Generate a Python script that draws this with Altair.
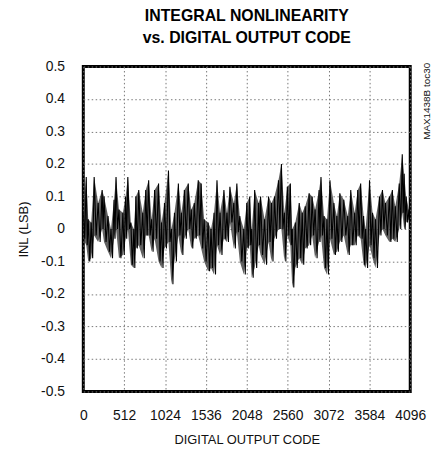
import altair as alt
import pandas as pd

FONT = "Liberation Sans"

title_lines = ["INTEGRAL NONLINEARITY", "vs. DIGITAL OUTPUT CODE"]
x_title = "DIGITAL OUTPUT CODE"
y_title = "INL (LSB)"
side_note = "MAX1438B toc30"

x_ticks = [0, 512, 1024, 1536, 2048, 2560, 3072, 3584, 4096]
y_ticks = [-0.5, -0.4, -0.3, -0.2, -0.1, 0.0, 0.1, 0.2, 0.3, 0.4, 0.5]

codes = [0, 37, 62, 99, 136, 186, 236, 260, 310, 347, 385, 410, 447, 496, 530, 558,
         596, 633, 658, 695, 745, 782, 819, 856, 893, 943, 980, 1017, 1067, 1104,
         1142, 1191, 1229, 1266, 1315, 1353, 1390, 1440, 1477, 1514, 1564, 1600,
         1638, 1675, 1713, 1762, 1800, 1837, 1886, 1924, 1961, 2011, 2048, 2085,
         2110, 2147, 2197, 2221, 2271, 2321, 2358, 2395, 2445, 2482, 2519, 2556,
         2594, 2618, 2656, 2705, 2743, 2780, 2829, 2867, 2904, 2954, 2978, 3016,
         3053, 3090, 3140, 3177, 3214, 3264, 3313, 3351, 3400, 3438, 3475, 3512,
         3537, 3586, 3624, 3661, 3710, 3748, 3785, 3835, 3872, 3909, 3958, 3996,
         4020, 4045, 4080]
upper = [0.05, 0.16, 0.03, 0.02, 0.16, 0.08, 0.12, 0.10, 0.04, 0.00, 0.09, 0.16, 0.06,
         0.05, 0.10, 0.16, 0.02, 0.00, 0.10, 0.12, 0.05, 0.12, 0.15, 0.03, 0.12, 0.14,
         0.02, 0.08, 0.18, 0.00, 0.05, 0.14, 0.05, 0.12, 0.14, 0.06, 0.08, 0.15, 0.14,
         0.03, 0.02, 0.00, 0.05, 0.15, 0.05, 0.12, 0.05, 0.13, 0.08, 0.14, 0.04, 0.00,
         0.08, 0.10, 0.00, 0.12, 0.08, 0.10, 0.03, 0.10, 0.08, 0.10, 0.15, 0.20, 0.05,
         0.13, 0.14, 0.00, 0.02, 0.08, 0.05, 0.07, 0.11, 0.10, 0.06, 0.12, 0.16, 0.04,
         0.03, 0.15, 0.08, 0.04, 0.11, 0.09, 0.04, 0.12, 0.05, 0.12, 0.14, 0.04, 0.00,
         0.15, 0.05, 0.03, 0.10, 0.12, 0.08, 0.10, 0.12, 0.07, 0.14, 0.23, 0.17, 0.10,
         0.06]
lower = [-0.03, -0.05, -0.10, -0.09, -0.02, -0.04, 0.00, -0.04, -0.07, -0.09, -0.03,
         0.00, -0.09, -0.08, -0.03, 0.00, -0.11, -0.12, -0.06, -0.05, -0.09, -0.02,
         -0.02, -0.07, -0.03, -0.10, -0.12, -0.06, -0.04, -0.17, -0.10, -0.02, -0.08,
         -0.03, 0.00, -0.06, -0.03, -0.02, -0.06, -0.10, -0.13, -0.12, -0.14, -0.05,
         -0.08, -0.03, -0.04, 0.02, -0.06, -0.01, -0.10, -0.14, -0.06, -0.05, -0.15,
         -0.12, -0.05, -0.08, -0.11, -0.04, -0.10, -0.03, 0.00, 0.00, -0.10, -0.02,
         -0.05, -0.18, -0.12, -0.09, -0.11, -0.06, -0.05, -0.02, -0.09, -0.04, -0.02,
         -0.12, -0.14, -0.03, -0.08, -0.07, -0.04, -0.02, -0.08, -0.05, -0.05, -0.02,
         -0.03, -0.11, -0.12, -0.05, -0.09, -0.12, -0.02, 0.00, -0.02, -0.04, -0.03,
         -0.04, 0.00, 0.05, 0.00, 0.02, 0.03]

rows = []
for i, c in enumerate(codes):
    nxt = codes[i + 1] if i + 1 < len(codes) else 4095
    rows.append({"code": c, "inl": upper[i], "order": 2 * i})
    rows.append({"code": (c + nxt) / 2, "inl": lower[i], "order": 2 * i + 1})
df = pd.DataFrame(rows)
band = pd.DataFrame({"code": codes, "hi": upper, "lo": lower})

W, H = 330, 328

y_label_expr = ("datum.value == 0 ? '0' : (datum.value < 0 ? '-' : '') + "
                "format(abs(datum.value), '.1f')")

x_scale = alt.Scale(domain=[0, 4096], nice=False, zero=False)
y_scale = alt.Scale(domain=[-0.5, 0.5], nice=False)

x_axis = alt.Axis(values=x_ticks, title=x_title, labelPadding=17, titlePadding=12,
                  format="d", labelOverlap=False, labelFlush=False)
y_axis = alt.Axis(values=y_ticks, title=y_title, labelExpr=y_label_expr,
                  labelPadding=19, titlePadding=10, labelOverlap=False,
                  labelFlush=False)

fill = alt.Chart(band).mark_area(color="#3a3a3a", opacity=0.8, clip=True).encode(
    x=alt.X("code:Q", scale=x_scale, axis=x_axis),
    y=alt.Y("lo:Q", scale=y_scale, axis=y_axis),
    y2="hi:Q",
)

trace = alt.Chart(df).mark_line(color="#000", strokeWidth=1.1, clip=True).encode(
    x=alt.X("code:Q", scale=x_scale, axis=x_axis),
    y=alt.Y("inl:Q", scale=y_scale, axis=y_axis),
    order="order:Q",
)

note = alt.Chart(pd.DataFrame({"t": [side_note]})).mark_text(
    font=FONT, fontSize=10, angle=270, align="left", baseline="middle", color="#111"
).encode(x=alt.value(W + 17), y=alt.value(74), text="t:N")

chart = (fill + trace + note).properties(
    width=W, height=H,
    padding={"left": 76, "top": 57, "right": 25, "bottom": 60},
    autosize=alt.AutoSizeParams(type="none"),
    title=alt.TitleParams(text=title_lines, font=FONT, fontSize=16, fontWeight="bold",
                          anchor="middle", lineHeight=22, offset=14, color="#000"),
).configure_view(
    stroke="#000", strokeWidth=3
).configure_axis(
    labelFont=FONT, labelFontSize=14, labelColor="#111",
    titleFont=FONT, titleFontSize=13, titleFontWeight="normal", titleColor="#111",
    domain=False, ticks=False, tickSize=0, labelOverlap=False,
    grid=True, gridColor="#777", gridDash=[1.5, 2.5], gridWidth=1,
)

chart.save("out.html", embed_options={"renderer": "svg", "actions": False})
